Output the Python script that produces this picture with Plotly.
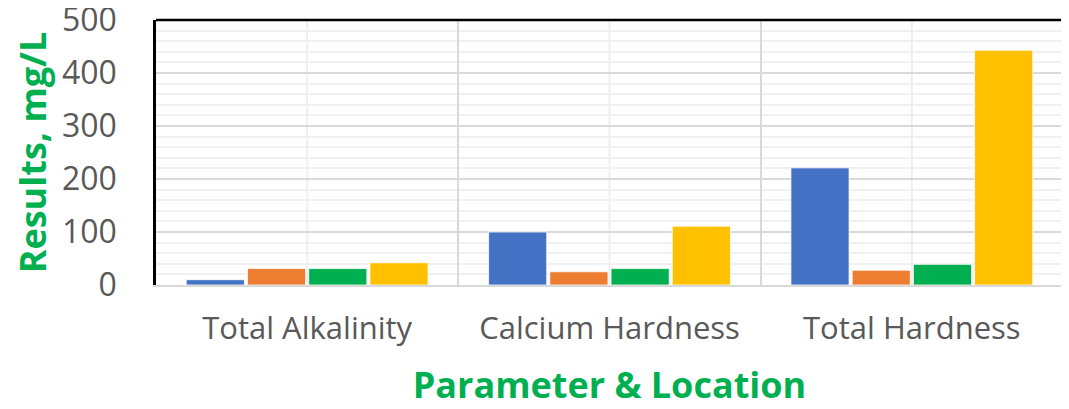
import plotly.graph_objects as go

categories = ["Total Alkalinity", "Calcium Hardness", "Total Hardness"]
series_names = ["Location 1", "Location 2", "Location 3", "Location 4"]
loc1 = [10, 100, 221]
loc2 = [31, 25, 28]
loc3 = [31, 31, 39]
loc4 = [42, 111, 443]
colors = ["#4472C4", "#ED7D31", "#00B050", "#FFC000"]

fig = go.Figure()
for name, vals, c in zip(series_names, [loc1, loc2, loc3, loc4], colors):
    fig.add_trace(go.Bar(
        x=categories, y=vals, name=name,
        marker=dict(color=c, line=dict(color="#ffffff", width=0.8)),
    ))

# lighter vertical lines through each category centre
shapes = [
    dict(type="line", xref="x", yref="paper", x0=i, x1=i, y0=0, y1=1,
         line=dict(color="#efefef", width=2), layer="below")
    for i in range(len(categories))
]
# black top border
shapes.append(dict(type="line", xref="paper", yref="paper", x0=0, x1=1, y0=1, y1=1,
                   line=dict(color="black", width=2.5)))

# page body adds an 8px offset, so the figure is 8px smaller than the window
fig.update_layout(
    width=1061, height=401,
    margin=dict(l=148, r=6, t=12, b=124),
    plot_bgcolor="white", paper_bgcolor="white",
    barmode="group", bargap=0.19, bargroupgap=0.05,
    showlegend=False,
    font=dict(family="Open Sans, Liberation Sans, sans-serif", color="#595959"),
    shapes=shapes,
    xaxis=dict(
        automargin=False,
        tickson="boundaries", showgrid=True, gridcolor="#d9d9d9", gridwidth=2,
        showline=True, linecolor="#d9d9d9", linewidth=2,
        tickfont=dict(size=31, color="#595959"), ticks="", ticklabelstandoff=15,
        title=dict(text="<b>Parameter & Location</b>",
                   font=dict(size=36, color="#00B050"), standoff=26),
    ),
    yaxis=dict(
        automargin=False,
        range=[0, 500], dtick=100, showgrid=True, gridcolor="#d9d9d9", gridwidth=2,
        minor=dict(dtick=20, showgrid=True, gridcolor="#f0f0f0", gridwidth=2),
        showline=True, mirror=True, linecolor="black", linewidth=2.5,
        zeroline=False, ticks="", ticklabelstandoff=30, ticklabeloverflow="allow",
        tickfont=dict(size=32, color="#595959"),
        title=dict(text="<b>Results, mg/L</b>",
                   font=dict(size=36, color="#00B050"), standoff=10),
    ),
)

fig.write_html("out.html", config={"displayModeBar": False})
